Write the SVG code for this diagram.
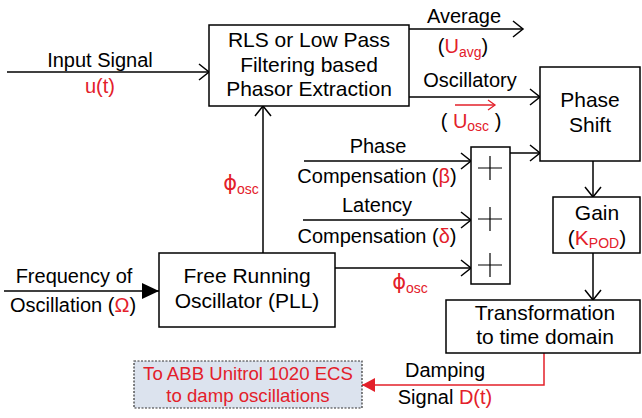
<svg xmlns="http://www.w3.org/2000/svg" width="642" height="418" viewBox="0 0 642 418">
<defs>
<style>
text{font-family:"Liberation Sans",Arial,sans-serif;fill:#000}
.b{font-size:21px;text-anchor:middle}
.l{font-size:20px;text-anchor:middle}
.r{fill:#e3202a}
.s{font-size:14px}
.phi{font-family:"DejaVu Sans",sans-serif;font-size:21px}
.box{fill:#fff;stroke:#000;stroke-width:1.5}
.ln{fill:none;stroke:#000;stroke-width:1.5}
.rl{fill:none;stroke:#e3202a;stroke-width:1.5}
</style>
<marker id="oa" markerUnits="userSpaceOnUse" markerWidth="14" markerHeight="18" viewBox="0 0 14 18" refX="12" refY="9" orient="auto">
<path d="M2,1 L12,9 L2,17" fill="none" stroke="#000" stroke-width="1.5"/>
</marker>
<marker id="ra" markerUnits="userSpaceOnUse" markerWidth="12" markerHeight="12" viewBox="0 0 12 12" refX="10" refY="6" orient="auto">
<path d="M3,1 L10,6 L3,11" fill="none" stroke="#e3202a" stroke-width="1.3"/>
</marker>
<marker id="fa" markerUnits="userSpaceOnUse" markerWidth="18" markerHeight="18" viewBox="0 0 18 18" refX="17" refY="9" orient="auto">
<path d="M0,1 L17,9 L0,17 Z" fill="#000"/>
</marker>
<marker id="fr" markerUnits="userSpaceOnUse" markerWidth="14" markerHeight="16" viewBox="0 0 14 16" refX="13" refY="8" orient="auto">
<path d="M0,1 L13,8 L0,15 Z" fill="#e3202a"/>
</marker>
</defs>
<rect width="642" height="418" fill="#fff"/>

<g id="connectors">
<line class="ln" x1="7" y1="72" x2="209" y2="72" marker-end="url(#oa)"/>
<line class="ln" x1="263" y1="253" x2="263" y2="106" marker-end="url(#oa)"/>
<line class="ln" x1="409" y1="29" x2="523" y2="29" marker-end="url(#oa)"/>
<line class="ln" x1="409" y1="97" x2="540" y2="97" marker-end="url(#oa)"/>
<line class="ln" x1="304" y1="161" x2="471" y2="161" marker-end="url(#oa)"/>
<line class="ln" x1="303" y1="220" x2="471" y2="220" marker-end="url(#oa)"/>
<line class="ln" x1="335" y1="268" x2="471" y2="268" marker-end="url(#oa)"/>
<line class="ln" x1="510" y1="153" x2="540" y2="153" marker-end="url(#oa)"/>
<line class="ln" x1="4" y1="291" x2="159" y2="291" marker-end="url(#fa)"/>
<line class="ln" x1="593" y1="161" x2="593" y2="197" marker-end="url(#oa)"/>
<line class="ln" x1="593" y1="253" x2="593" y2="300" marker-end="url(#oa)"/>
<polyline class="rl" points="544,353 544,385 362,385" marker-end="url(#fr)"/>
</g>

<g id="labels">
<text class="l" x="100" y="67">Input Signal</text>
<text class="l r" x="100" y="93">u(t)</text>
<text class="l" x="464" y="23">Average</text>
<text class="l" x="463" y="53">(<tspan class="r">U</tspan><tspan class="r s" dy="4">avg</tspan><tspan dy="-4">)</tspan></text>
<text class="l" x="470" y="87">Oscillatory</text>
<text class="l" x="471" y="128">( <tspan class="r">U</tspan><tspan class="r s" dy="3">osc</tspan><tspan dy="-3"> )</tspan></text>
<line class="rl" x1="455" y1="105" x2="495" y2="105" marker-end="url(#ra)"/>
<text class="l r" x="241" y="190"><tspan class="phi">ϕ</tspan><tspan class="s" dy="4">osc</tspan></text>
<text class="l" x="378" y="153">Phase</text>
<text class="l" x="377" y="183">Compensation (<tspan class="r">β</tspan>)</text>
<text class="l" x="377" y="212">Latency</text>
<text class="l" x="377" y="243">Compensation (<tspan class="r">δ</tspan>)</text>
<text class="l r" x="410" y="289"><tspan class="phi">ϕ</tspan><tspan class="s" dy="4">osc</tspan></text>
<text class="l" x="74" y="283">Frequency of</text>
<text class="l" x="73" y="312">Oscillation (<tspan class="r">Ω</tspan>)</text>
<text class="l" x="445" y="377">Damping</text>
<text class="l" x="445" y="404">Signal <tspan class="r">D(t)</tspan></text>
</g>

<g id="rls">
<rect class="box" x="209" y="25" width="200" height="81"/>
<text class="b" x="309" y="47">RLS or Low Pass</text>
<text class="b" x="309" y="72">Filtering based</text>
<text class="b" x="309" y="96">Phasor Extraction</text>
</g>

<g id="phase-shift">
<rect class="box" x="540" y="67" width="100" height="94"/>
<text class="b" x="590" y="107">Phase</text>
<text class="b" x="590" y="132">Shift</text>
</g>

<g id="summer">
<rect class="box" x="471" y="147" width="39" height="137"/>
<path d="M478,168 H502 M490,156 V180 M478,219 H502 M490,207 V231 M478,265 H502 M490,253 V277" stroke="#000" stroke-width="1.2" fill="none"/>
</g>

<g id="gain">
<rect class="box" x="553" y="197" width="87" height="56"/>
<text class="b" x="597" y="220">Gain</text>
<text class="b" x="597" y="245">(<tspan class="r">K</tspan><tspan class="r s" dy="3">POD</tspan><tspan dy="-3">)</tspan></text>
</g>

<g id="fro">
<rect class="box" x="159" y="253" width="176" height="74"/>
<text class="b" x="247" y="283">Free Running</text>
<text class="b" x="247" y="308">Oscillator (PLL)</text>
</g>

<g id="transform">
<rect class="box" x="446" y="300" width="194" height="53"/>
<text class="b" x="545" y="320">Transformation</text>
<text class="b" x="545" y="344">to time domain</text>
</g>

<g id="ecs">
<rect x="134" y="361" width="228" height="47" fill="#dce3ee" stroke="#333" stroke-width="1.2" stroke-dasharray="2,1.5"/>
<text x="248" y="380" font-size="18.6" text-anchor="middle" class="r">To ABB Unitrol 1020 ECS</text>
<text x="248" y="402" font-size="18.6" text-anchor="middle" class="r">to damp oscillations</text>
</g>
</svg>
